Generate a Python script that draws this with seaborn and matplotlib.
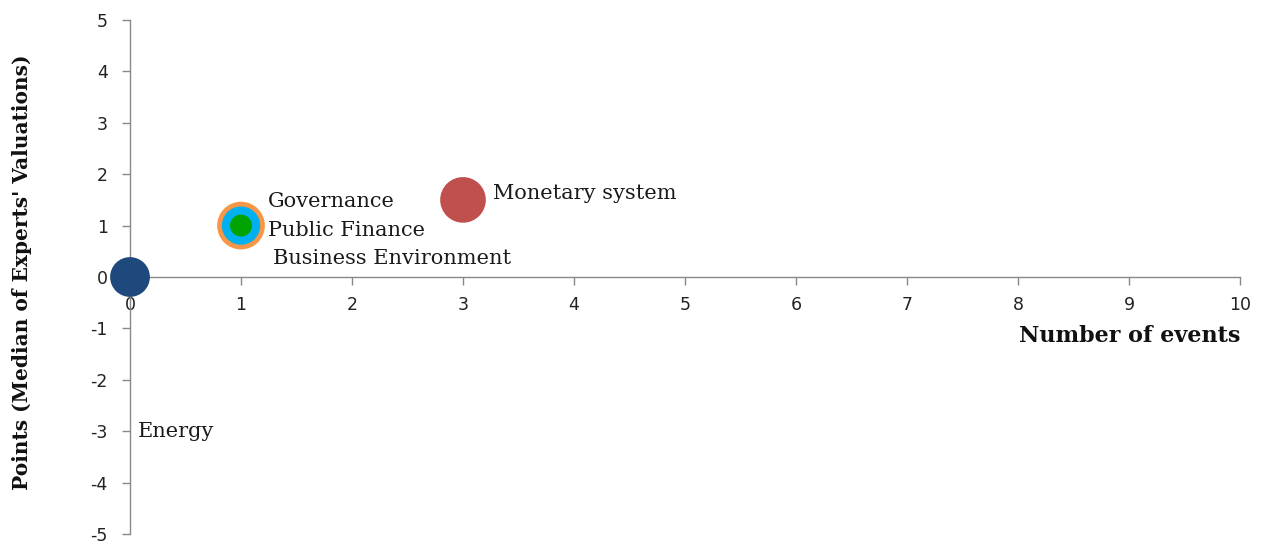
import matplotlib
matplotlib.use('Agg')
import matplotlib.pyplot as plt
import seaborn as sns
import pandas as pd

# bubble data (drawn back to front)
names = ['Energy', 'Monetary system', 'Governance', 'Public Finance', 'Business Environment']
events = [0, 3, 1, 1, 1]
points = [0, 1.5, 1, 1, 1]
bubble_area = [820, 1080, 1180, 760, 250]
colors = ['#1F497D', '#C0504D', '#F79646', '#00B0F0', '#00A300']

# label placement (data coords)
label_x = [0.07, 3.27, 1.24, 1.24, 1.29]
label_y = [-3.0, 1.63, 1.46, 0.9, 0.36]

df = pd.DataFrame({'name': names, 'events': events, 'points': points})

sns.set_style('white')
plt.rcParams['axes.unicode_minus'] = False
fig = plt.figure(figsize=(12.62, 5.46), dpi=100)
ax = fig.add_axes([130 / 1262, 12 / 546, 1110 / 1262, 514 / 546])

sns.scatterplot(data=df, x='events', y='points', hue='name', size='name',
                palette=dict(zip(names, colors)), sizes=dict(zip(names, bubble_area)),
                linewidth=0, alpha=1, legend=False, ax=ax, zorder=3, clip_on=False)

for n, lx, ly in zip(names, label_x, label_y):
    ax.text(lx, ly, n, fontsize=15, family='DejaVu Serif', color='#1a1a1a',
            ha='left', va='center')

ax.set_xlim(0, 10)
ax.set_ylim(-5, 5)
ax.set_xticks(range(0, 11))
ax.set_yticks(range(-5, 6))

ax.spines['left'].set_position(('data', 0))
ax.spines['bottom'].set_position(('data', 0))
ax.spines['top'].set_visible(False)
ax.spines['right'].set_visible(False)
for s in ['left', 'bottom']:
    ax.spines[s].set_color('#888888')
    ax.spines[s].set_linewidth(1)

ax.tick_params(axis='both', direction='out', length=6, width=1, color='#888888',
               labelsize=12.5, labelcolor='#222222', bottom=True, left=True)
ax.tick_params(axis='x', pad=8)
ax.tick_params(axis='y', pad=10)

ax.set_xlabel('')
ax.set_ylabel('')
fig.text(1240 / 1262, 1 - 336 / 546, 'Number of events', ha='right', va='center',
         fontsize=16, fontweight='bold', family='DejaVu Serif', color='#111111')
fig.text(22 / 1262, 1 - 272 / 546, "Points (Median of Experts' Valuations)", ha='center',
         va='center', rotation=90, fontsize=14.5, fontweight='bold', family='DejaVu Serif',
         color='#111111')

fig.savefig('out.png', dpi=100)
